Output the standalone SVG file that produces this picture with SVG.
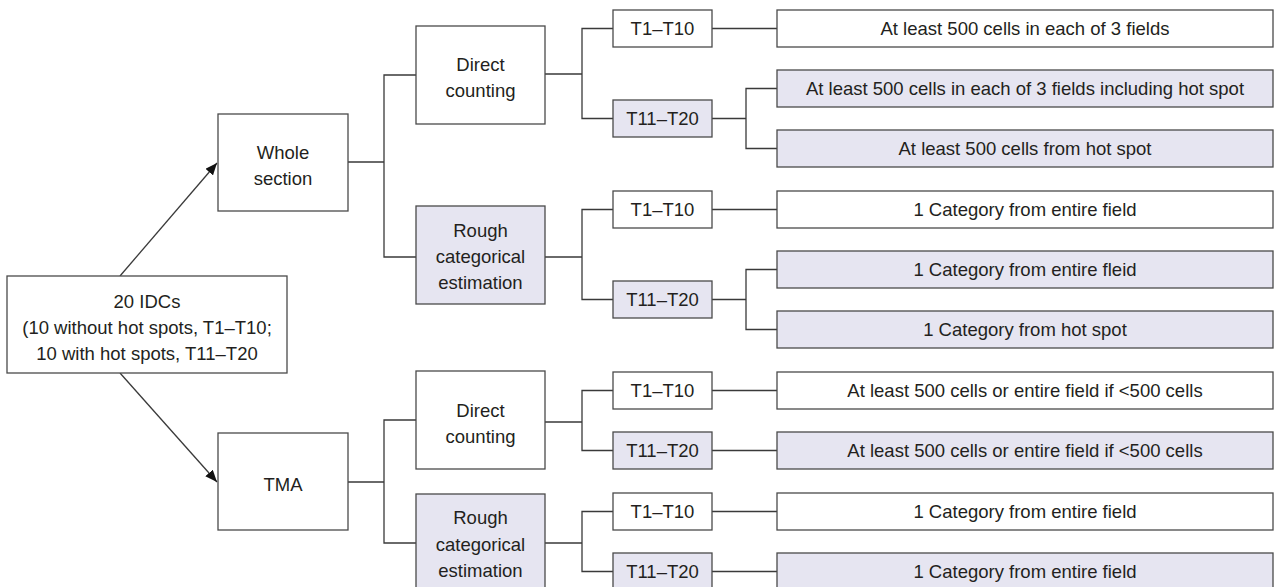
<svg xmlns="http://www.w3.org/2000/svg" width="1277" height="587" viewBox="0 0 1277 587">
<style>
rect{stroke:#4a4a4a;stroke-width:1.3;fill:#fff}
rect.s{fill:#e6e5f1}
text{font-family:"Liberation Sans",Arial,sans-serif;font-size:18.5px;fill:#231f20;text-anchor:middle}
.c path,.c line{stroke:#3a3a3a;stroke-width:1.3;fill:none}
</style>
<defs>
<marker id="ah" viewBox="0 0 12 10" refX="12" refY="5" markerWidth="12" markerHeight="10" markerUnits="userSpaceOnUse" orient="auto">
<path d="M0,0 L12,5 L0,10 z" fill="#111"/>
</marker>
</defs>
<rect width="1277" height="587" fill="#fff" style="stroke:none"/>
<g class="c" id="connectors">
<line x1="120" y1="276" x2="217" y2="163" marker-end="url(#ah)"/>
<line x1="120" y1="373" x2="217" y2="482" marker-end="url(#ah)"/>
<path d="M348,162H384M416,75H384V257H416"/>
<path d="M545,74H582M613,28.5H582V118.5H613"/>
<path d="M712,28.5H777"/>
<path d="M712,118.5H746M777,88.5H746V148.5H777"/>
<path d="M545,257H582M613,209.5H582V299.5H613"/>
<path d="M712,209.5H777"/>
<path d="M712,299.5H746M777,269.5H746V329.5H777"/>
<path d="M348,482H384M416,420H384V543H416"/>
<path d="M545,422H582M613,390.5H582V450.5H613"/>
<path d="M545,543H582M613,511.5H582V571.5H613"/>
<path d="M712,390.5H777M712,450.5H777M712,511.5H777M712,571.5H777"/>
</g>
<g id="idc"><rect x="7" y="276" width="280" height="97"/><text x="147" y="308">20 IDCs</text><text x="147" y="334">(10 without hot spots, T1–T10;</text><text x="147" y="360">10 with hot spots, T11–T20</text></g>
<g id="whole"><rect x="218" y="114" width="130" height="97"/><text x="283" y="159">Whole</text><text x="283" y="185">section</text></g>
<g id="tma"><rect x="218" y="433" width="130" height="97"/><text x="283" y="491">TMA</text></g>
<g id="ws-direct"><rect x="416" y="26" width="129" height="98"/><text x="480.5" y="71">Direct</text><text x="480.5" y="97">counting</text></g>
<g id="ws-rough"><rect class="s" x="416" y="206" width="129" height="98"/><text x="480.5" y="237">Rough</text><text x="480.5" y="263">categorical</text><text x="480.5" y="289">estimation</text></g>
<g id="tma-direct"><rect x="416" y="371" width="129" height="98"/><text x="480.5" y="417">Direct</text><text x="480.5" y="443">counting</text></g>
<g id="tma-rough"><rect class="s" x="416" y="494" width="129" height="98"/><text x="480.5" y="524">Rough</text><text x="480.5" y="551">categorical</text><text x="480.5" y="577">estimation</text></g>
<g id="t1"><rect x="613" y="10" width="99" height="37"/><text x="662.5" y="35">T1–T10</text></g>
<g id="t2"><rect class="s" x="613" y="100" width="99" height="37"/><text x="662.5" y="125">T11–T20</text></g>
<g id="t3"><rect x="613" y="191" width="99" height="37"/><text x="662.5" y="216">T1–T10</text></g>
<g id="t4"><rect class="s" x="613" y="281" width="99" height="37"/><text x="662.5" y="306">T11–T20</text></g>
<g id="t5"><rect x="613" y="372" width="99" height="37"/><text x="662.5" y="397">T1–T10</text></g>
<g id="t6"><rect class="s" x="613" y="432" width="99" height="37"/><text x="662.5" y="457">T11–T20</text></g>
<g id="t7"><rect x="613" y="493" width="99" height="37"/><text x="662.5" y="518">T1–T10</text></g>
<g id="t8"><rect class="s" x="613" y="553" width="99" height="37"/><text x="662.5" y="578">T11–T20</text></g>
<g id="r1"><rect x="777" y="10" width="496" height="37"/><text x="1025" y="35">At least 500 cells in each of 3 fields</text></g>
<g id="r2"><rect class="s" x="777" y="70" width="496" height="37"/><text x="1025" y="95">At least 500 cells in each of 3 fields including hot spot</text></g>
<g id="r3"><rect class="s" x="777" y="130" width="496" height="37"/><text x="1025" y="155">At least 500 cells from hot spot</text></g>
<g id="r4"><rect x="777" y="191" width="496" height="37"/><text x="1025" y="216">1 Category from entire field</text></g>
<g id="r5"><rect class="s" x="777" y="251" width="496" height="37"/><text x="1025" y="276">1 Category from entire fleid</text></g>
<g id="r6"><rect class="s" x="777" y="311" width="496" height="37"/><text x="1025" y="336">1 Category from hot spot</text></g>
<g id="r7"><rect x="777" y="372" width="496" height="37"/><text x="1025" y="397">At least 500 cells or entire field if &lt;500 cells</text></g>
<g id="r8"><rect class="s" x="777" y="432" width="496" height="37"/><text x="1025" y="457">At least 500 cells or entire field if &lt;500 cells</text></g>
<g id="r9"><rect x="777" y="493" width="496" height="37"/><text x="1025" y="518">1 Category from entire field</text></g>
<g id="r10"><rect class="s" x="777" y="553" width="496" height="37"/><text x="1025" y="578">1 Category from entire field</text></g>
</svg>
